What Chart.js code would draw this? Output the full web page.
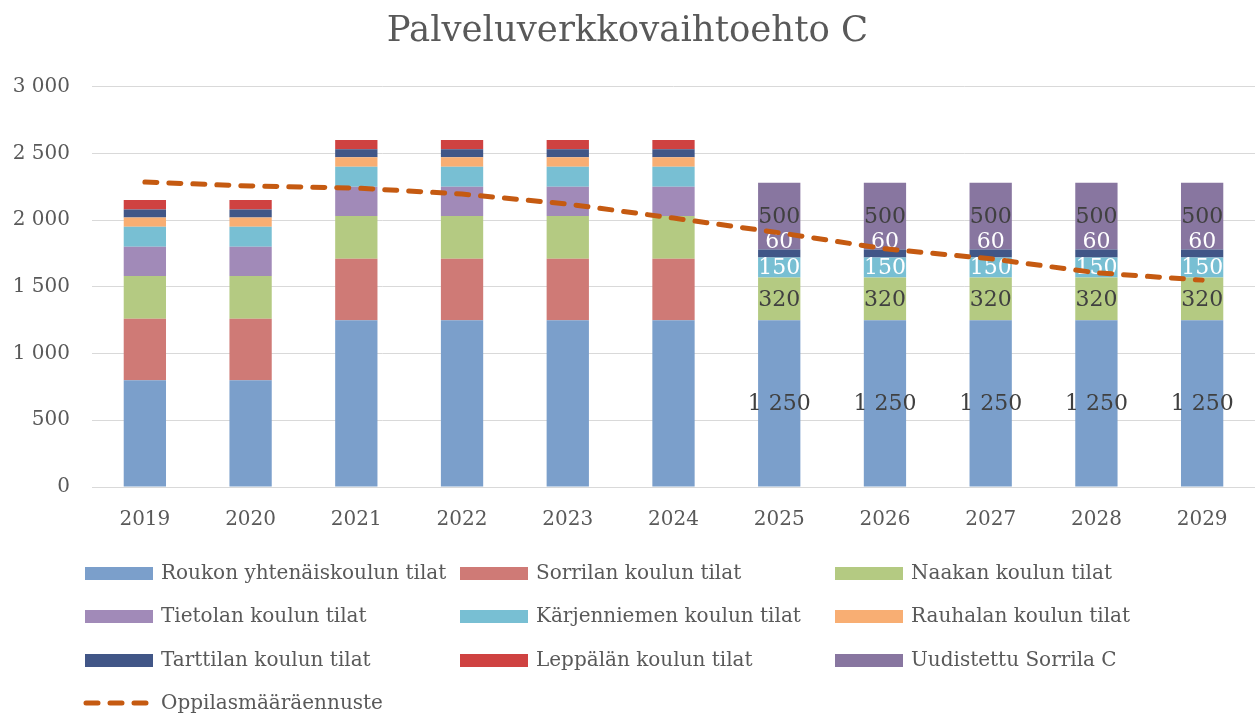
<!DOCTYPE html>
<html>
<head>
<meta charset="utf-8">
<title>Palveluverkkovaihtoehto C</title>
<script src="https://cdn.jsdelivr.net/npm/chart.js@4"></script>
<style>
    html, body { margin: 0; padding: 0; background: #ffffff; }
</style>
</head>
<body>
<canvas id="chart" width="1255" height="717"></canvas>
<script>
    // Data
    var years = ["2019", "2020", "2021", "2022", "2023", "2024", "2025", "2026", "2027", "2028", "2029"];
    var roukko = [800, 800, 1250, 1250, 1250, 1250, 1250, 1250, 1250, 1250, 1250];
    var sorrila = [460, 460, 460, 460, 460, 460, 0, 0, 0, 0, 0];
    var naakka = [320, 320, 320, 320, 320, 320, 320, 320, 320, 320, 320];
    var tietola = [220, 220, 220, 220, 220, 220, 0, 0, 0, 0, 0];
    var karjenniemi = [150, 150, 150, 150, 150, 150, 150, 150, 150, 150, 150];
    var rauhala = [70, 70, 70, 70, 70, 70, 0, 0, 0, 0, 0];
    var tarttila = [60, 60, 60, 60, 60, 60, 60, 60, 60, 60, 60];
    var leppala = [70, 70, 70, 70, 70, 70, 0, 0, 0, 0, 0];
    var uusiSorrila = [0, 0, 0, 0, 0, 0, 500, 500, 500, 500, 500];
    var ennuste = [2285, 2255, 2240, 2195, 2120, 2015, 1905, 1785, 1710, 1605, 1550];
    var yTicks = [0, 500, 1000, 1500, 2000, 2500, 3000];

    var FONT = '"DejaVu Serif", "Liberation Serif", serif';
    var TEXT = '#595959';

    // numbers like "1 250"
    function fmt(v) {
        return String(v).replace(/\B(?=(\d{3})+(?!\d))/g, ' ');
    }

    function bar(label, data, color, valueColor) {
        return {
            type: 'bar',
            label: label,
            data: data,
            backgroundColor: color,
            borderWidth: 0,
            categoryPercentage: 1,
            barPercentage: 0.4,
            stack: 'tilat',
            order: 1,
            valueColor: valueColor || null
        };
    }

    // values written inside the bars from 2025 on
    var labelFrom = 6;
    var barValues = {
        id: 'barValues',
        beforeDatasetDraw: function (chart, args) {
            if (chart.data.datasets[args.index].type !== 'line') return;
            var ctx = chart.ctx;
            ctx.save();
            ctx.font = '22px ' + FONT;
            ctx.textAlign = 'center';
            ctx.textBaseline = 'middle';
            chart.data.datasets.forEach(function (ds, i) {
                if (!ds.valueColor) return;
                var meta = chart.getDatasetMeta(i);
                meta.data.forEach(function (el, j) {
                    if (j < labelFrom || !ds.data[j]) return;
                    var y = (el.y + el.base) / 2 + (ds.valueShift || 0);
                    ctx.fillStyle = ds.valueColor;
                    ctx.fillText(fmt(ds.data[j]), el.x, y + 1);
                });
            });
            ctx.restore();
        }
    };

    // legend as a 3 column grid under the chart
    var legendGrid = {
        id: 'legendGrid',
        afterDraw: function (chart) {
            var ctx = chart.ctx;
            var cols = [85, 460, 835];
            var rows = [573, 616, 660, 703];
            ctx.save();
            ctx.font = '20px ' + FONT;
            ctx.textBaseline = 'middle';
            ctx.textAlign = 'left';
            chart.data.datasets.forEach(function (ds, i) {
                var x = cols[i % 3], y = rows[Math.floor(i / 3)];
                if (ds.type === 'line') {
                    ctx.strokeStyle = ds.borderColor;
                    ctx.lineWidth = 5;
                    ctx.lineCap = 'round';
                    ctx.setLineDash([12, 12]);
                    ctx.beginPath();
                    ctx.moveTo(x + 1, y);
                    ctx.lineTo(x + 66, y);
                    ctx.stroke();
                    ctx.setLineDash([]);
                } else {
                    ctx.fillStyle = ds.backgroundColor;
                    ctx.fillRect(x, y - 6, 68, 13);
                }
                ctx.fillStyle = TEXT;
                ctx.fillText(ds.label, x + 76, y + 1);
            });
            ctx.restore();
        }
    };

    var datasets = [
        bar("Roukon yhtenäiskoulun tilat", roukko, "#7b9fcb", "#404040"),
        bar("Sorrilan koulun tilat", sorrila, "#cf7a76"),
        bar("Naakan koulun tilat", naakka, "#b4ca82", "#404040"),
        bar("Tietolan koulun tilat", tietola, "#a18ab8"),
        bar("Kärjenniemen koulun tilat", karjenniemi, "#78bfd3", "#ffffff"),
        bar("Rauhalan koulun tilat", rauhala, "#f8ae73"),
        bar("Tarttilan koulun tilat", tarttila, "#415687", "#ffffff"),
        bar("Leppälän koulun tilat", leppala, "#cf4241"),
        bar("Uudistettu Sorrila C", uusiSorrila, "#8876a0", "#404040"),
        {
            type: 'line',
            label: "Oppilasmääräennuste",
            data: ennuste,
            borderColor: "#c55a11",
            backgroundColor: "#c55a11",
            borderWidth: 5,
            borderDash: [12, 12],
            borderCapStyle: 'round',
            pointRadius: 0,
            tension: 0,
            fill: false,
            stack: 'ennuste',
            order: 0
        }
    ];
    datasets[6].valueShift = -12;

    var ctx = document.getElementById("chart").getContext("2d");
    var myChart = new Chart(ctx, {
        data: {
            labels: years,
            datasets: datasets
        },
        options: {
            responsive: false,
            animation: false,
            layout: {
                padding: { left: 0, right: 0, top: 2, bottom: 164 }
            },
            plugins: {
                legend: { display: false },
                tooltip: { enabled: false },
                title: {
                    display: true,
                    text: "Palveluverkkovaihtoehto C",
                    color: TEXT,
                    font: { family: FONT, size: 35.5, weight: 'normal' },
                    padding: { top: 8, bottom: 34 }
                }
            },
            scales: {
                x: {
                    stacked: true,
                    grid: { display: false, drawTicks: false },
                    border: { display: true, color: '#d9d9d9', width: 1 },
                    ticks: {
                        color: TEXT,
                        font: { family: FONT, size: 20 },
                        padding: 21
                    }
                },
                y: {
                    stacked: true,
                    min: 0,
                    max: 3000,
                    afterBuildTicks: function (scale) {
                        scale.ticks = yTicks.map(function (v) { return { value: v }; });
                    },
                    afterFit: function (scale) {
                        scale.width = 92;
                    },
                    grid: { color: '#d9d9d9', lineWidth: 1, drawTicks: false },
                    border: { display: false },
                    ticks: {
                        color: TEXT,
                        font: { family: FONT, size: 20 },
                        padding: 22,
                        callback: function (v) { return fmt(v); }
                    }
                }
            }
        },
        plugins: [barValues, legendGrid]
    });
</script>
</body>
</html>
